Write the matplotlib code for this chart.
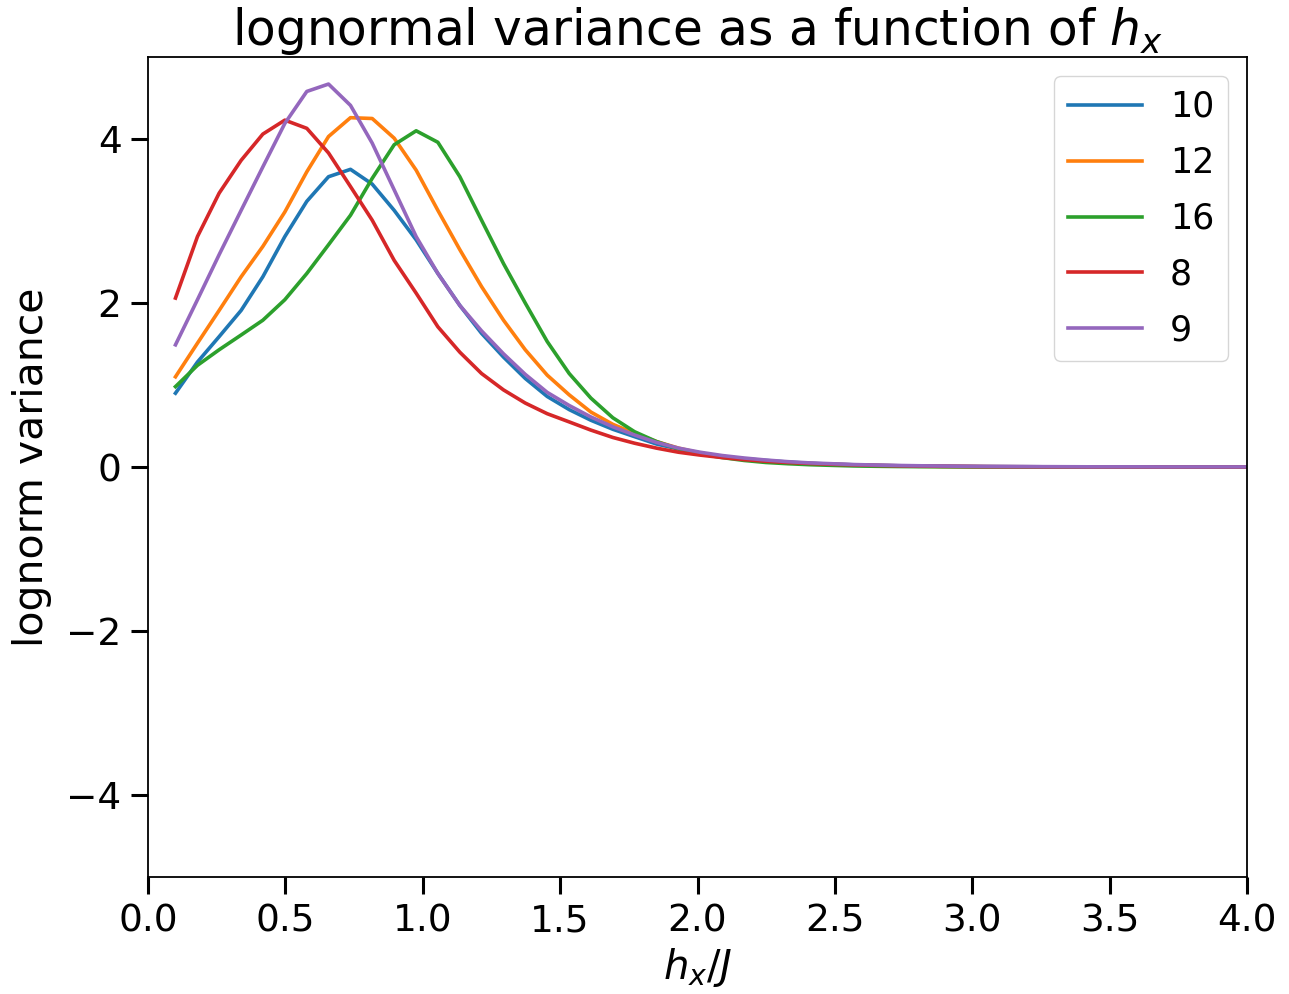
import matplotlib
matplotlib.use("Agg")
import matplotlib.pyplot as plt

hx = [0.100, 0.180, 0.259, 0.339, 0.418, 0.498, 0.578, 0.657, 0.737, 0.816,
      0.896, 0.976, 1.055, 1.135, 1.214, 1.294, 1.373, 1.453, 1.533, 1.612,
      1.692, 1.771, 1.851, 1.931, 2.010, 2.090, 2.169, 2.249, 2.329, 2.408,
      2.488, 2.567, 2.647, 2.727, 2.806, 2.886, 2.965, 3.045, 3.124, 3.204,
      3.284, 3.363, 3.443, 3.522, 3.602, 3.682, 3.761, 3.841, 3.920, 4.000]

labels = ["10", "12", "16", "8", "9"]

var_10 = [0.90, 1.28, 1.59, 1.91, 2.32, 2.81, 3.24, 3.54, 3.63, 3.45,
          3.13, 2.77, 2.36, 1.97, 1.63, 1.34, 1.08, 0.86, 0.70, 0.57,
          0.46, 0.37, 0.28, 0.22, 0.17, 0.13, 0.10, 0.08, 0.06, 0.045,
          0.035, 0.027, 0.020, 0.015, 0.012, 0.009, 0.007, 0.005, 0.004, 0.003,
          0.002, 0.002, 0.001, 0.001, 0.001, 0.001, 0.0, 0.0, 0.0, 0.0]
var_12 = [1.10, 1.51, 1.91, 2.32, 2.69, 3.11, 3.60, 4.03, 4.26, 4.25,
          4.01, 3.62, 3.13, 2.65, 2.20, 1.79, 1.43, 1.12, 0.88, 0.67,
          0.52, 0.41, 0.31, 0.23, 0.17, 0.13, 0.10, 0.075, 0.055, 0.04,
          0.03, 0.022, 0.016, 0.012, 0.009, 0.006, 0.005, 0.003, 0.002, 0.002,
          0.001, 0.001, 0.001, 0.0, 0.0, 0.0, 0.0, 0.0, 0.0, 0.0]
var_16 = [0.98, 1.24, 1.43, 1.61, 1.79, 2.04, 2.36, 2.71, 3.07, 3.52,
          3.93, 4.10, 3.96, 3.54, 3.01, 2.48, 2.00, 1.53, 1.14, 0.84,
          0.60, 0.43, 0.31, 0.22, 0.16, 0.115, 0.08, 0.055, 0.04, 0.028,
          0.02, 0.013, 0.009, 0.006, 0.004, 0.003, 0.002, 0.001, 0.001, 0.0,
          0.0, 0.0, 0.0, 0.0, 0.0, 0.0, 0.0, 0.0, 0.0, 0.0]
var_8 = [2.06, 2.81, 3.34, 3.74, 4.06, 4.23, 4.13, 3.83, 3.42, 3.01,
         2.52, 2.12, 1.71, 1.40, 1.14, 0.94, 0.78, 0.65, 0.55, 0.45,
         0.36, 0.29, 0.23, 0.18, 0.145, 0.115, 0.09, 0.07, 0.055, 0.043,
         0.033, 0.026, 0.020, 0.015, 0.012, 0.009, 0.007, 0.005, 0.004, 0.003,
         0.002, 0.002, 0.001, 0.001, 0.001, 0.0, 0.0, 0.0, 0.0, 0.0]
var_9 = [1.49, 2.04, 2.59, 3.13, 3.66, 4.19, 4.58, 4.67, 4.41, 3.95,
         3.38, 2.81, 2.36, 1.97, 1.66, 1.38, 1.13, 0.91, 0.75, 0.61,
         0.49, 0.39, 0.30, 0.23, 0.18, 0.14, 0.11, 0.085, 0.065, 0.05,
         0.04, 0.03, 0.024, 0.019, 0.015, 0.012, 0.009, 0.007, 0.006, 0.005,
         0.004, 0.003, 0.002, 0.002, 0.002, 0.001, 0.001, 0.001, 0.001, 0.001]

series = [var_10, var_12, var_16, var_8, var_9]

plt.rcParams['font.family'] = ['DejaVu Sans']
fig = plt.figure(figsize=(12.89, 9.94), dpi=100)
ax = fig.add_axes([148 / 1289, 1 - 877 / 994, (1247 - 148) / 1289, (877 - 57) / 994])

for lab, ys in zip(labels, series):
    ax.plot(hx, ys, label=lab, linewidth=2.6)

ax.set_xlim(0, 4.0)
ax.set_ylim(-5, 5)
ax.set_xticks([0.0, 0.5, 1.0, 1.5, 2.0, 2.5, 3.0, 3.5, 4.0])
ax.set_yticks([-4, -2, 0, 2, 4])
ax.tick_params(labelsize=27, length=12, width=2.2, pad=7)
for s in ax.spines.values():
    s.set_linewidth(1.3)
ax.set_xlabel(r"$h_x/J$", fontsize=29, labelpad=5)
ax.set_ylabel("lognorm variance", fontsize=29.5, labelpad=10)
ax.set_title(r"lognormal variance as a function of $h_x$", fontsize=35, pad=6)
ax.legend(fontsize=25, loc="upper right", handlelength=2.13, borderpad=0.4,
          labelspacing=0.63, handletextpad=0.8, borderaxespad=0.55)

fig.savefig("out.png", dpi=100)
